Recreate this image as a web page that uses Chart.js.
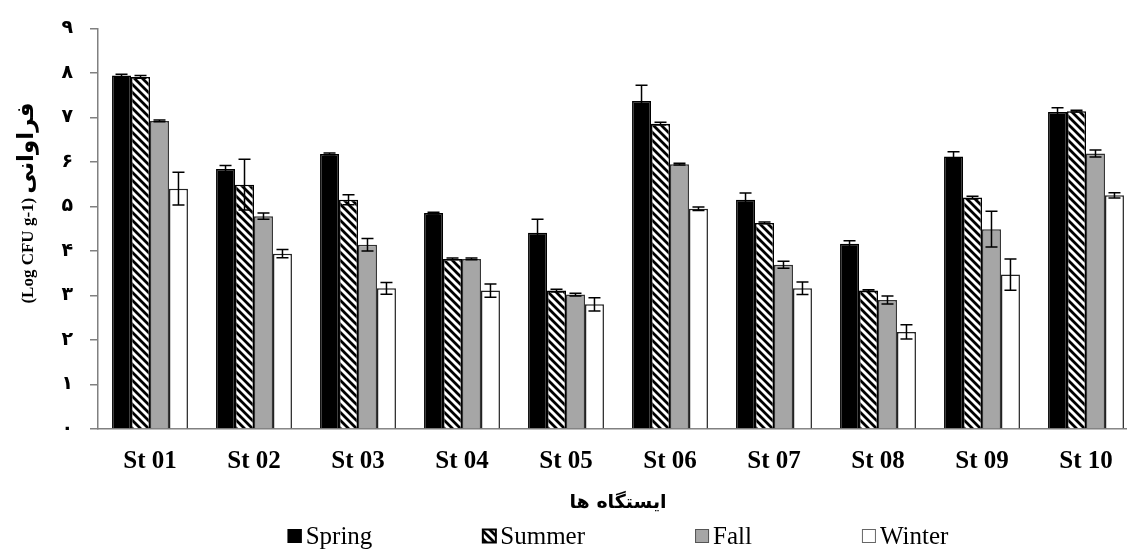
<!DOCTYPE html>
<html>
<head>
<meta charset="utf-8">
<script src="https://cdn.jsdelivr.net/npm/chart.js@4.4.1/dist/chart.umd.min.js"></script>
<style>
  html, body { margin: 0; padding: 0; background: #fff; overflow: hidden; }
  #wrap { width: 1140px; height: 549px; }
</style>
</head>
<body>
<div id="wrap"><canvas id="stationChart"></canvas></div>
<script>
// Data
const stations = ['St 01', 'St 02', 'St 03', 'St 04', 'St 05', 'St 06', 'St 07', 'St 08', 'St 09', 'St 10'];
const seasons = ['Spring', 'Summer', 'Fall', 'Winter'];

const springValues = [7.94, 5.84, 6.18, 4.85, 4.41, 7.37, 5.15, 4.16, 6.12, 7.12];
const summerValues = [7.91, 5.49, 5.15, 3.82, 3.11, 6.86, 4.63, 3.11, 5.20, 7.14];
const fallValues   = [6.92, 4.78, 4.14, 3.82, 3.02, 5.95, 3.69, 2.90, 4.49, 6.19];
const winterValues = [5.40, 3.94, 3.16, 3.11, 2.80, 4.95, 3.16, 2.18, 3.47, 5.25];

const springErrors = [0.03, 0.08, 0.02, 0.02, 0.30, 0.35, 0.15, 0.07, 0.11, 0.10];
const summerErrors = [0.03, 0.57, 0.11, 0.02, 0.03, 0.03, 0.02, 0.02, 0.03, 0.02];
const fallErrors   = [0.02, 0.07, 0.14, 0.02, 0.03, 0.02, 0.08, 0.09, 0.40, 0.08];
const winterErrors = [0.37, 0.09, 0.13, 0.15, 0.15, 0.04, 0.14, 0.16, 0.35, 0.06];

const yTickLabels = ['۰', '۱', '۲', '۳', '۴', '۵', '۶', '۷', '۸', '۹'];
const xTitle = 'ایستگاه ها';
const yTitleLatin = '(Log CFU g-1)';
const yTitlePersian = 'فراوانی';

// Diagonal hatch for the Summer bars
function makeHatch() {
    const c = document.createElement('canvas');
    c.width = 8; c.height = 8;
    const p = c.getContext('2d');
    p.fillStyle = '#fff';
    p.fillRect(0, 0, 8, 8);
    p.strokeStyle = '#000';
    p.lineWidth = 2.8;
    p.beginPath();
    p.moveTo(-2, -2); p.lineTo(10, 10);
    p.moveTo(-6, 2); p.lineTo(2, 10);
    p.moveTo(6, -2); p.lineTo(14, 6);
    p.stroke();
    return p.createPattern(c, 'repeat');
}

const ctx = document.getElementById('stationChart');
const hatch = makeHatch();

// Error bars drawn on top of each bar
const errorBars = {
    id: 'errorBars',
    afterDatasetsDraw(chart) {
        const g = chart.ctx;
        const y = chart.scales.y;
        g.save();
        g.strokeStyle = '#000';
        g.lineWidth = 1.5;
        chart.data.datasets.forEach((ds, i) => {
            const meta = chart.getDatasetMeta(i);
            meta.data.forEach((bar, j) => {
                const v = ds.data[j];
                const e = ds.errors[j];
                const top = y.getPixelForValue(v + e);
                const bot = y.getPixelForValue(v - e);
                const x = bar.x;
                g.beginPath();
                g.moveTo(x, top); g.lineTo(x, bot);
                g.moveTo(x - 6, top); g.lineTo(x + 6, top);
                g.moveTo(x - 6, bot); g.lineTo(x + 6, bot);
                g.stroke();
            });
        });
        g.restore();
    }
};

// Rotated y title and the legend row
const extras = {
    id: 'extras',
    afterDraw(chart) {
        const g = chart.ctx;
        const area = chart.chartArea;

        // y title
        g.save();
        g.translate(28, 203);
        g.rotate(-Math.PI / 2);
        g.fillStyle = '#000';
        g.textBaseline = 'middle';
        g.font = 'bold 17px "Liberation Serif"';
        const latinW = g.measureText(yTitleLatin).width;
        g.font = 'bold 23px "DejaVu Sans"';
        const persW = g.measureText(yTitlePersian).width;
        const total = latinW + 4 + persW;
        let x0 = -total / 2;
        g.font = 'bold 17px "Liberation Serif"';
        g.textAlign = 'left';
        g.fillText(yTitleLatin, x0, 1);
        g.font = 'bold 23px "DejaVu Sans"';
        g.fillText(yTitlePersian, x0 + latinW + 4, -1);
        g.restore();

        // legend
        g.save();
        g.font = '25px "Liberation Serif"';
        g.textBaseline = 'middle';
        g.textAlign = 'left';
        const box = 14, gapText = 4, gapItem = 110;
        const items = chart.data.datasets.map(ds => ({
            ds, w: box + gapText + g.measureText(ds.label).width
        }));
        const totalW = items.reduce((a, it) => a + it.w, 0) + gapItem * (items.length - 1);
        let x = (area.left + area.right) / 2 - totalW / 2;
        const cy = 536;
        items.forEach(it => {
            g.fillStyle = it.ds.backgroundColor;
            g.fillRect(x, cy - box / 2, box, box);
            g.strokeStyle = it.ds.legendBorder;
            g.lineWidth = it.ds.label === 'Summer' ? 2 : 1;
            g.strokeRect(x + 0.5, cy - box / 2 + 0.5, box - 1, box - 1);
            g.fillStyle = '#000';
            g.fillText(it.ds.label, x + box + gapText, cy + 1);
            x += it.w + gapItem;
        });
        g.restore();
    }
};

new Chart(ctx, {
    type: 'bar',
    data: {
        labels: stations,
        datasets: [
            { label: seasons[0], data: springValues, errors: springErrors, backgroundColor: '#000000', borderColor: '#000000', legendBorder: '#000000' },
            { label: seasons[1], data: summerValues, errors: summerErrors, backgroundColor: hatch, borderColor: '#000000', legendBorder: '#000000' },
            { label: seasons[2], data: fallValues, errors: fallErrors, backgroundColor: '#a6a6a6', borderColor: '#333333', legendBorder: '#555555' },
            { label: seasons[3], data: winterValues, errors: winterErrors, backgroundColor: '#ffffff', borderColor: '#222222', legendBorder: '#666666' }
        ].map(d => Object.assign(d, {
            borderWidth: 1.5,
            borderSkipped: 'bottom',
            barPercentage: 1.0,
            categoryPercentage: 0.73
        }))
    },
    options: {
        responsive: true,
        maintainAspectRatio: false,
        animation: false,
        layout: { padding: { top: 25, right: 2, left: 0, bottom: 0 } },
        plugins: {
            legend: { display: false },
            tooltip: { enabled: false }
        },
        scales: {
            x: {
                grid: { display: true, drawOnChartArea: false, drawTicks: false },
                border: { color: '#808080', width: 1.5 },
                ticks: {
                    color: '#000',
                    padding: 18,
                    font: { family: '"Liberation Serif"', size: 25, weight: 'bold' }
                },
                title: {
                    display: true,
                    text: xTitle,
                    color: '#000',
                    font: { family: '"DejaVu Sans"', size: 19, weight: 'bold' },
                    padding: { top: 0, bottom: 35 }
                },
                afterFit(scale) { scale.height = 120; }
            },
            y: {
                min: 0,
                max: 9,
                grid: { display: true, drawOnChartArea: false, drawTicks: true, tickLength: 8, color: '#808080', lineWidth: 1.5 },
                border: { color: '#808080', width: 1.5 },
                ticks: {
                    stepSize: 1,
                    padding: 17,
                    color: '#000',
                    font: { family: '"DejaVu Sans"', size: 19, weight: 'bold' },
                    callback: (value) => yTickLabels[value]
                },
                afterFit(scale) { scale.width = 98; }
            }
        }
    },
    plugins: [errorBars, extras]
});
</script>
</body>
</html>
